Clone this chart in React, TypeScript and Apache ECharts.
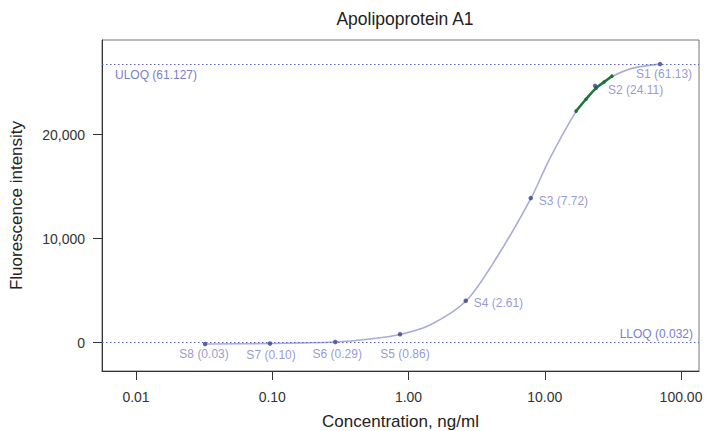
import React, { useEffect, useRef } from "react";
import * as echarts from "echarts";

// Fitted standard curve [concentration ng/ml, fluorescence]
const curveConc = [0.0321, 0.0962, 0.288, 0.522, 0.866, 1.438, 2.64, 4.46, 7.93, 10.93, 17.25, 24.18, 31.7, 44.4, 70.2];
const curveFluor = [-140, -96, 48, 336, 769, 1683, 3990, 8221, 13894, 17740, 22355, 24567, 25625, 26394, 26779];

// Green sample readings along the curve
const greenConc = [16.96, 20.08, 23.78, 27.22, 31.16];
const greenFluor = [22259, 23400, 24470, 25050, 25625];

// Standards S1..S8
const stdNames = ["S1", "S2", "S3", "S4", "S5", "S6", "S7", "S8"];
const stdLabels = ["61.13", "24.11", "7.72", "2.61", "0.86", "0.29", "0.10", "0.03"];
const stdConc = [70.2, 23.4, 7.89, 2.63, 0.866, 0.29, 0.0963, 0.0321];
const stdFluor = [26780, 24690, 13894, 4019, 790, 50, -100, -140];

const xTicks = [0.01, 0.1, 1, 10, 100];
const yTicks = [0, 10000, 20000];

const uloqValue = 26780;
const uloqText = "ULOQ (61.127)";
const lloqValue = 20;
const lloqText = "LLOQ (0.032)";

const FONT = "'Liberation Sans', Arial, sans-serif";
const LABEL_COLOR = "#7a80c8";

const labelPlacement: Record<number, { align: string; offset: number[] }> = {
  0: { align: "left", offset: [-24, 10] },
  1: { align: "left", offset: [13, 4] },
  2: { align: "left", offset: [8, 3] },
  3: { align: "left", offset: [8, 2] },
  4: { align: "center", offset: [5, 20] },
  5: { align: "center", offset: [2, 12] },
  6: { align: "center", offset: [1, 11] },
  7: { align: "center", offset: [-1, 10] },
};

export default function App() {
  const ref = useRef<HTMLDivElement>(null);
  useEffect(() => {
    if (!ref.current) return;
    const chart = echarts.init(ref.current, undefined, { renderer: "svg" });
    const stdData = stdNames.map((n, i) => ({
      value: [stdConc[i], stdFluor[i]],
      name: n,
      label: {
        show: true,
        position: "inside",
        align: labelPlacement[i].align,
        verticalAlign: "middle",
        offset: labelPlacement[i].offset,
        formatter: `${n} (${stdLabels[i]})`,
      },
    }));
    chart.setOption({
      animation: false,
      textStyle: { fontFamily: FONT },
      title: {
        text: "Apolipoprotein A1",
        left: 400,
        textAlign: "center",
        top: 5,
        textStyle: { fontSize: 17.5, fontWeight: "normal", color: "#222", fontFamily: FONT },
      },
      grid: {
        left: 102,
        top: 40,
        right: 8,
        bottom: 60,
        outerBoundsMode: "none",
        containLabel: false,
        show: true,
        borderColor: "#777",
        borderWidth: 1,
        backgroundColor: "transparent",
      },
      xAxis: {
        type: "log",
        logBase: 10,
        min: 0.005627,
        max: 135.5,
        name: "Concentration, ng/ml",
        nameLocation: "middle",
        nameGap: 42,
        nameTextStyle: { fontSize: 17, color: "#222", fontFamily: FONT },
        axisLine: { show: true, onZero: false, lineStyle: { color: "#333", width: 1 } },
        axisTick: { show: true, length: 9, lineStyle: { color: "#333" }, customValues: xTicks },
        axisLabel: {
          fontSize: 14,
          color: "#333",
          margin: 19,
          fontFamily: FONT,
          customValues: xTicks,
          formatter: (v: number) => Number(v).toFixed(2),
        },
        splitLine: { show: false },
        minorTick: { show: false },
      },
      yAxis: {
        type: "value",
        min: -2740,
        max: 29100,
        name: "Fluorescence intensity",
        nameLocation: "middle",
        nameGap: 77,
        nameTextStyle: { fontSize: 17, color: "#222", fontFamily: FONT },
        axisLine: { show: true, onZero: false, lineStyle: { color: "#333", width: 1 } },
        axisTick: { show: true, length: 9, lineStyle: { color: "#333" }, customValues: yTicks },
        axisLabel: {
          fontSize: 14,
          color: "#333",
          margin: 17,
          fontFamily: FONT,
          customValues: yTicks,
          formatter: (v: number) => Number(v).toLocaleString("en-US"),
        },
        splitLine: { show: false },
      },
      series: [
        {
          type: "line",
          data: curveConc.map((c, i) => [c, curveFluor[i]]),
          smooth: 0.3,
          showSymbol: false,
          lineStyle: { color: "#a9abd9", width: 1.6 },
          z: 2,
          markLine: {
            silent: true,
            symbol: "none",
            lineStyle: { type: [1.5, 2.5], color: "#5a62c4", width: 1.2 },
            data: [
              {
                yAxis: uloqValue,
                label: {
                  show: true,
                  position: "insideStartBottom",
                  formatter: uloqText,
                  color: LABEL_COLOR,
                  fontSize: 12,
                  fontFamily: FONT,
                  distance: [13, 5],
                },
              },
              {
                yAxis: lloqValue,
                label: {
                  show: true,
                  position: "insideEndTop",
                  formatter: lloqText,
                  color: LABEL_COLOR,
                  fontSize: 12,
                  fontFamily: FONT,
                  distance: [6, 2],
                },
              },
            ],
          },
        },
        {
          type: "line",
          data: greenConc.map((c, i) => [c, greenFluor[i]]),
          smooth: 0.3,
          symbol: "circle",
          symbolSize: 3.5,
          itemStyle: { color: "#1d6f38" },
          lineStyle: { color: "#1d7a3c", width: 2.6 },
          z: 3,
        },
        {
          type: "scatter",
          data: stdData,
          symbol: "circle",
          symbolSize: 4.5,
          itemStyle: { color: "#3a3f8c" },
          label: { color: LABEL_COLOR, fontSize: 12, fontFamily: FONT },
          z: 4,
        },
      ],
    });
    return () => chart.dispose();
  }, []);
  return (
    <div
      ref={ref}
      style={{ position: "absolute", left: 0, top: 0, width: 707, height: 431 }}
    />
  );
}
